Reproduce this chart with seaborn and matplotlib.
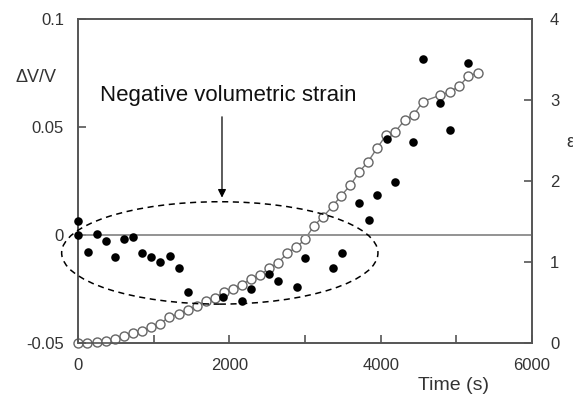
import numpy as np
import pandas as pd
import matplotlib
matplotlib.use("Agg")
import matplotlib.pyplot as plt
import seaborn as sns
from matplotlib.patches import Ellipse

sns.set_theme(style="white")
plt.rcParams['font.family'] = ['Liberation Sans', 'DejaVu Sans']

# Volumetric strain (filled points, left axis)
dv_time = [0, 0, 130, 250, 370, 490, 610, 730, 850, 970, 1090, 1210, 1330, 1450,
           1920, 2170, 2290, 2520, 2640, 2890, 3000, 3370, 3490, 3720, 3840, 3950,
           4080, 4190, 4430, 4560, 4790, 4920, 5160]
dv_value = [0.0066, 0.0, -0.0077, 0.0003, -0.0026, -0.010, -0.002, -0.001, -0.0082,
            -0.010, -0.0123, -0.0097, -0.0154, -0.0262, -0.0289, -0.0306, -0.0252,
            -0.0182, -0.0211, -0.0239, -0.0105, -0.0154, -0.0085, 0.015, 0.0069,
            0.0185, 0.0443, 0.0247, 0.0429, 0.0816, 0.061, 0.0486, 0.0798]

# Strain epsilon (open circles, right axis)
eps_time = [0, 125, 245, 365, 490, 610, 730, 850, 965, 1085, 1205, 1330, 1450, 1570,
            1690, 1810, 1930, 2045, 2165, 2285, 2405, 2525, 2645, 2765, 2885, 3000,
            3120, 3240, 3365, 3480, 3600, 3715, 3835, 3955, 4075, 4195, 4315, 4435,
            4555, 4790, 4910, 5040, 5160, 5280]
eps_value = [0.0, 0.0, 0.01, 0.03, 0.05, 0.09, 0.12, 0.15, 0.20, 0.24, 0.32, 0.36,
             0.41, 0.46, 0.52, 0.56, 0.63, 0.67, 0.72, 0.79, 0.84, 0.92, 0.99, 1.11,
             1.18, 1.28, 1.45, 1.56, 1.69, 1.82, 1.95, 2.11, 2.24, 2.41, 2.57, 2.61,
             2.75, 2.81, 2.98, 3.06, 3.10, 3.17, 3.30, 3.33]

left_ticks = [-0.05, 0, 0.05, 0.1]
left_labels = ["-0.05", "0", "0.05", "0.1"]
right_ticks = [0, 1, 2, 3, 4]
x_ticks = [0, 2000, 4000, 6000]

dv_df = pd.DataFrame({"time": dv_time, "dv": dv_value})
eps_df = pd.DataFrame({"time": eps_time, "eps": eps_value})

fig = plt.figure(figsize=(5.73, 3.94), dpi=100)
ax = fig.add_axes([78/573, 1-343/394, (532-78)/573, (343-19)/394])
ax2 = ax.twinx()

spine_c = '#555555'
text_c = '#333333'

ax.axhline(0, color='#8a8a8a', lw=1.3, zorder=1)

sns.lineplot(data=eps_df, x="time", y="eps", ax=ax2, color='#777777', lw=1.0,
             marker='o', markersize=6.5, markerfacecolor='white',
             markeredgecolor='#666666', markeredgewidth=1.0, zorder=3,
             clip_on=False)

sns.scatterplot(data=dv_df, x="time", y="dv", ax=ax, color='black', s=38,
                edgecolor='black', linewidth=0, zorder=4, clip_on=False)

ax.set_zorder(ax2.get_zorder() + 1)
ax.patch.set_visible(False)

ax.set_xlim(0, 6000)
ax.set_ylim(-0.05, 0.1)
ax2.set_ylim(0, 4)

ax.set_xticks(x_ticks)
ax.set_xticks([1000, 3000, 5000], minor=True)
ax.set_yticks(left_ticks)
ax.set_yticklabels(left_labels)
ax2.set_yticks(right_ticks)

ax.set_xlabel("")
ax.set_ylabel("")
ax2.set_ylabel("")

ax.tick_params(axis='x', which='both', direction='in', length=6, width=1.2,
               color=spine_c, labelsize=12, labelcolor=text_c, pad=11, bottom=True)
ax.tick_params(axis='y', direction='in', length=6, width=1.2, color=spine_c,
               labelsize=12, labelcolor=text_c, pad=10, left=True)
ax2.tick_params(axis='y', direction='in', length=6, width=1.2, color=spine_c,
                labelsize=12, labelcolor=text_c, pad=13, right=True)

for a in (ax, ax2):
    for s in a.spines.values():
        s.set_color(spine_c)
        s.set_linewidth(1.2)
        s.set_visible(True)

# Ellipse marking negative volumetric strain
ell = Ellipse((1874, -0.0083), width=4180, height=0.0474, fill=False,
              ls=(0, (4, 3)), lw=1.1, color='black', zorder=5, clip_on=False)
ax.add_patch(ell)

ax.annotate("", xy=(1903, 0.0160), xytext=(1903, 0.0560),
            arrowprops=dict(arrowstyle='-|>', color='black', lw=0.9,
                            mutation_scale=12))
ax.text(100/573, 1-95/394, "Negative volumetric strain", transform=fig.transFigure,
        fontsize=16, ha='left', va='center', color='#111111')

fig.text(15/573, 1-77/394, "\u0394V/V", fontsize=13, color=text_c,
         ha='left', va='center')
fig.text(454/573, 1-385/394, "Time (s)", fontsize=14, color=text_c,
         ha='center', va='center')
fig.text(566/573, 1-143/394, "\u03b5", fontsize=13, color=text_c,
         ha='left', va='center')

fig.savefig("out.png", dpi=100)
